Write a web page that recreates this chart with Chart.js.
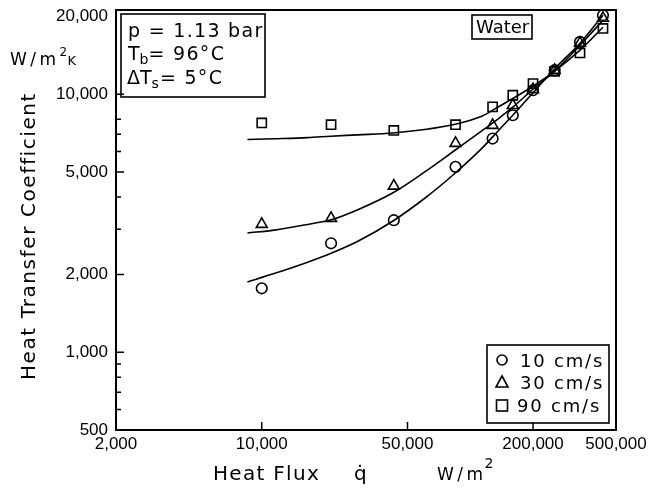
<!DOCTYPE html>
<html><head><meta charset="utf-8">
<script src="https://cdn.jsdelivr.net/npm/chart.js@4"></script>
<style>html,body{margin:0;padding:0;background:#fff}#wrap{width:654px;height:491px;position:relative}</style>
</head><body><div id="wrap"><canvas id="c"></canvas></div>
<script>
// Measured data (heat flux W/m2, heat transfer coefficient W/m2K)
const fluxValues = [10000, 21500, 43000, 85000, 128000, 160000, 200000, 254000, 336000, 433000];
const h10 = [1770, 2645, 3250, 5230, 6735, 8290, 10360, 12390, 15950, 20230];
const h30 = [3135, 3307, 4410, 6460, 7585, 9060, 10430, 12390, 15770, 19710];
const h90 = [7740, 7620, 7240, 7620, 8930, 9910, 11000, 12250, 14450, 17980];

// Fitted curves
const fitFlux = [8540, 11460, 16600, 21500, 28900, 42600, 60500, 84500, 113600, 136700, 160000, 200000, 254000, 336000, 433000];
const fit10 = [1873, 2018, 2234, 2419, 2693, 3228, 3953, 4941, 6165, 7240, 8290, 10130, 12560, 15770, 20230];
const fit30 = [2900, 2975, 3130, 3262, 3570, 4150, 5000, 6067, 7207, 8051, 8905, 10460, 12280, 15480, 19360];
const fit90 = [6673, 6720, 6790, 6877, 6960, 7080, 7300, 7650, 8215, 8944, 9630, 10740, 12280, 14810, 18180];

const xTickVals = [2000, 10000, 50000, 200000, 500000];
const yTickVals = [500, 1000, 2000, 5000, 10000, 20000];
const yMinorVals = [600, 700, 800, 900, 3000, 4000, 6000, 7000, 8000];
const legendLabels = ['10 cm/s', '30 cm/s', '90 cm/s'];

const pts = (xs, ys) => xs.map((v, i) => ({x: v, y: ys[i]}));

const lineDs = (ys) => ({type: 'line', data: pts(fitFlux, ys), borderColor: '#000', borderWidth: 1.6,
  pointRadius: 0, fill: false, cubicInterpolationMode: 'monotone', showLine: true});
const markDs = (ys, style, r) => ({type: 'scatter', data: pts(fluxValues, ys), showLine: false,
  pointStyle: style, pointRadius: r, borderColor: '#000', backgroundColor: 'rgba(0,0,0,0)', pointBorderWidth: 1.6});

function spaced(ctx, text, x, y, sp) {
  ctx.letterSpacing = sp + 'px';
  ctx.fillText(text, x, y);
  const w = ctx.measureText(text).width;
  ctx.letterSpacing = '0px';
  return w;
}

const decor = {
  id: 'decor',
  afterDraw(chart) {
    const {ctx, chartArea: a, scales: {x, y}} = chart;
    ctx.save();
    ctx.strokeStyle = '#000'; ctx.fillStyle = '#000';
    ctx.lineWidth = 2;
    ctx.strokeRect(a.left, a.top, a.right - a.left, a.bottom - a.top);
    ctx.lineWidth = 1.5;
    ctx.beginPath();
    yTickVals.slice(1, -1).forEach(v => { const p = y.getPixelForValue(v); ctx.moveTo(a.left, p); ctx.lineTo(a.left + 8, p); });
    yMinorVals.forEach(v => { const p = y.getPixelForValue(v); ctx.moveTo(a.left, p); ctx.lineTo(a.left + 5, p); });
    xTickVals.slice(1, -1).forEach(v => { const p = x.getPixelForValue(v); ctx.moveTo(p, a.bottom); ctx.lineTo(p, a.bottom - 8); });
    ctx.stroke();

    const F = '"DejaVu Sans"';
    ctx.textBaseline = 'alphabetic'; ctx.textAlign = 'left';

    // Y title
    ctx.save();
    ctx.translate(35, 236); ctx.rotate(-Math.PI / 2);
    ctx.textAlign = 'center';
    ctx.font = '20px ' + F;
    spaced(ctx, 'Heat Transfer Coefficient', 0, 0, 1.6);
    ctx.restore();

    // Y unit W/m2K
    ctx.font = '17px ' + F;
    let w = spaced(ctx, 'W/m', 10, 65, 3.5);
    ctx.font = '12px ' + F;
    spaced(ctx, '2', 10 + w, 56, 0);
    ctx.font = '13px ' + F;
    spaced(ctx, 'K', 10 + w + 8, 65, 0);

    // X title
    ctx.font = '20px ' + F;
    spaced(ctx, 'Heat Flux', 213, 480, 1.3);
    spaced(ctx, 'q\u0307', 354, 480, 0);
    ctx.font = '17px ' + F;
    w = spaced(ctx, 'W/m', 437, 480, 3.5);
    ctx.font = '14px ' + F;
    spaced(ctx, '2', 437 + w - 2, 468, 0);

    // Conditions box
    ctx.lineWidth = 1.6;
    ctx.strokeRect(121, 14, 144, 83);
    ctx.font = '19px ' + F;
    spaced(ctx, 'p = 1.13 bar', 128, 37, 1.3);
    w = spaced(ctx, 'T', 128, 60, 0);
    ctx.font = '14px ' + F;
    const wb = spaced(ctx, 'b', 128 + w, 64, 0);
    ctx.font = '19px ' + F;
    spaced(ctx, '= 96°C', 128 + w + wb, 60, 1.3);
    w = spaced(ctx, 'ΔT', 127, 84, 0);
    ctx.font = '14px ' + F;
    const ws = spaced(ctx, 's', 127 + w, 88, 0);
    ctx.font = '19px ' + F;
    spaced(ctx, '= 5°C', 127 + w + ws + 1, 84, 1.3);

    // Water box
    ctx.strokeRect(472, 15, 60, 24);
    ctx.font = '18px ' + F;
    spaced(ctx, 'Water', 476, 33, 0);

    // Legend box
    ctx.strokeRect(487, 345, 122, 78);
    const rows = [360, 382, 405];
    ctx.lineWidth = 1.6;
    ctx.beginPath(); ctx.arc(502, rows[0], 5, 0, Math.PI * 2); ctx.stroke();
    ctx.beginPath(); ctx.moveTo(502, rows[1] - 6); ctx.lineTo(508, rows[1] + 5); ctx.lineTo(496, rows[1] + 5); ctx.closePath(); ctx.stroke();
    ctx.strokeRect(496.5, rows[2] - 5, 11, 11);
    ctx.font = '18px ' + F;
    legendLabels.forEach((t, i) => spaced(ctx, t, i === 2 ? 517 : 520, rows[i] + 7, 1.8));
    ctx.restore();
  }
};

new Chart(document.getElementById('c'), {
  data: {
    datasets: [
      lineDs(fit10), lineDs(fit30), lineDs(fit90),
      markDs(h10, 'circle', 5.3), markDs(h30, 'triangle', 6.3), markDs(h90, 'rect', 6.5)
    ]
  },
  options: {
    responsive: true, maintainAspectRatio: false, animation: false, events: [],
    layout: {padding: {top: 10, right: 38, left: 0, bottom: 0}},
    plugins: {legend: {display: false}, tooltip: {enabled: false}},
    scales: {
      x: {
        type: 'logarithmic', min: 2000, max: 500000, position: 'bottom',
        grid: {display: false, drawTicks: false}, border: {display: false},
        afterBuildTicks: (ax) => { ax.ticks = xTickVals.map(v => ({value: v})); },
        afterFit: (ax) => { ax.height = 61; ax.paddingLeft = 0; ax.paddingRight = 0; },
        ticks: {autoSkip: false, maxRotation: 0, padding: 4, color: '#000',
          font: {family: '"Liberation Sans", Arial', size: 17},
          callback: (v) => Number(v).toLocaleString('en-US')}
      },
      y: {
        type: 'logarithmic', min: 500, max: 21200, position: 'left',
        grid: {display: false, drawTicks: false}, border: {display: false},
        afterBuildTicks: (ax) => { ax.ticks = yTickVals.map(v => ({value: v})); },
        afterFit: (ax) => { ax.width = 116; ax.paddingTop = 0; ax.paddingBottom = 0; },
        ticks: {autoSkip: false, padding: 8, color: '#000',
          font: {family: '"Liberation Sans", Arial', size: 17},
          callback: (v) => Number(v).toLocaleString('en-US')}
      }
    }
  },
  plugins: [decor]
});
</script>
</body></html>
